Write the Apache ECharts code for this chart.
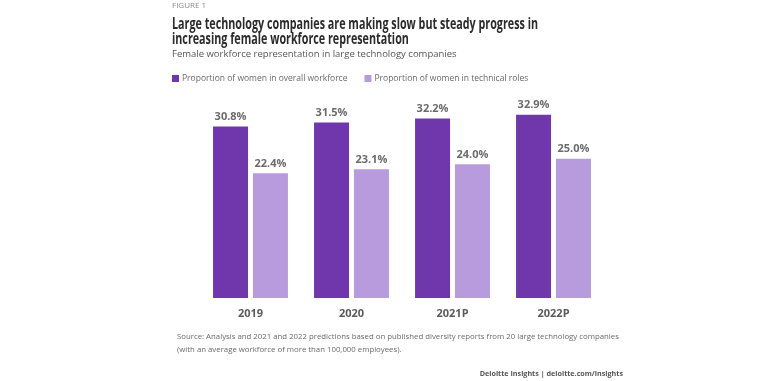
<!DOCTYPE html>
<html>
<head>
<meta charset="utf-8">
<script src="https://cdn.jsdelivr.net/npm/echarts@6/dist/echarts.min.js"></script>
<style>
html,body{margin:0;padding:0;background:#fff;}
#c{width:768px;height:381px;}
</style>
</head>
<body>
<div id="c"></div>
<script>
var categories = ['2019', '2020', '2021P', '2022P'];
var overallWorkforce = [30.8, 31.5, 32.2, 32.9];
var technicalRoles = [22.4, 23.1, 24.0, 25.0];
var seriesNames = ['Proportion of women in overall workforce', 'Proportion of women in technical roles'];
var titleLines = ['Large technology companies are making slow but steady progress in', 'increasing female workforce representation'];

// measure title to squeeze it horizontally like a condensed face
var cv = document.createElement('canvas').getContext('2d');
var titleFont = 'bold 16.5px "Open Sans"';
cv.font = titleFont;
var titleScale = 366 / cv.measureText(titleLines[0]).width;

var chart = echarts.init(document.getElementById('c'));
var labelStyle = {
  show: true, position: 'top', distance: 4,
  formatter: function (p) { return p.value.toFixed(1) + '%'; },
  fontFamily: 'Open Sans', fontWeight: 'bold', fontSize: 11, color: '#6b6b6b'
};
chart.setOption({
  animation: false,
  backgroundColor: '#ffffff',
  title: [
    { text: 'FIGURE 1', left: 172, top: 2, padding: 0, textStyle: { fontFamily: 'Open Sans', fontSize: 8, fontWeight: 'normal', color: '#8a8a8a' } },
    { text: 'Female workforce representation in large technology companies', left: 172, top: 49, padding: 0,
      textStyle: { fontFamily: 'Open Sans', fontSize: 9.5, fontWeight: 'normal', color: '#555555' } },
    { text: 'Source: Analysis and 2021 and 2022 predictions based on published diversity reports from 20 large technology companies\n(with an average workforce of more than 100,000 employees).', left: 177, top: 331, padding: 0,
      textStyle: { fontFamily: 'Open Sans', fontSize: 7.8, fontWeight: 'normal', color: '#6a6a6a', lineHeight: 12.5 } },
    { text: 'Deloitte Insights | deloitte.com/insights', right: 145, top: 370, padding: 0,
      textStyle: { fontFamily: 'Open Sans', fontSize: 7.2, fontWeight: 'bold', color: '#555555' } }
  ],
  graphic: [
    { type: 'text', left: 172, top: 16, scaleX: titleScale, originX: 0,
      style: { text: titleLines.join('\n'), font: titleFont, fill: '#2b2b2b', lineHeight: 15 } }
  ],
  legend: {
    left: 172, top: 74, padding: 0, itemWidth: 7, itemHeight: 7, itemGap: 17, icon: 'rect',
    textStyle: { fontFamily: 'Open Sans', fontSize: 8.5, color: '#6a6a6a', padding: [0, 0, 0, -2] },
    data: seriesNames
  },
  grid: { left: 200, right: 164, top: 103, bottom: 83 },
  xAxis: {
    type: 'category', data: categories,
    axisLine: { show: false }, axisTick: { show: false },
    axisLabel: { fontFamily: 'Open Sans', fontWeight: 'bold', fontSize: 11, color: '#5a5a5a', margin: 10 }
  },
  yAxis: {
    type: 'value', min: 0, max: 35, show: false,
    splitLine: { show: false }
  },
  series: [
    { name: seriesNames[0], type: 'bar', data: overallWorkforce, barWidth: 35, barGap: '14%',
      itemStyle: { color: '#7036ab' }, label: labelStyle },
    { name: seriesNames[1], type: 'bar', data: technicalRoles, barWidth: 35, barGap: '14%',
      itemStyle: { color: '#b89bdd' }, label: labelStyle }
  ]
});
</script>
</body>
</html>
